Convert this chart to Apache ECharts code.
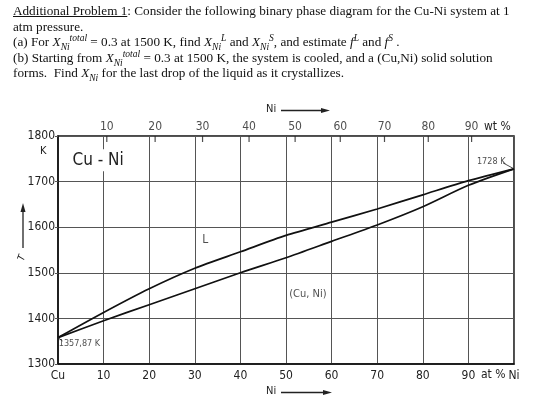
<!DOCTYPE html>
<html>
<head>
<meta charset="utf-8">
<script src="https://cdn.jsdelivr.net/npm/echarts@6/dist/echarts.min.js"></script>
<style>
  body { margin: 0; background: #fff; }
  #wrap { position: relative; width: 560px; height: 405px; }
  #chart { position: absolute; left: 0; top: 0; width: 560px; height: 405px; }
  #head {
    position: absolute; left: 13px; top: 3px; z-index: 2;
    font-family: "Liberation Serif", "DejaVu Serif", serif; font-size: 13.2px;
    line-height: 15.5px; color: #111; white-space: nowrap;
  }
  #head i { font-style: italic; }
  #head sub, #head sup { font-size: 9.5px; line-height: 0; font-style: italic; }
</style>
</head>
<body>
<div id="wrap">
  <div id="chart"></div>
  <div id="head">
    <u>Additional Problem 1</u>: Consider the following binary phase diagram for the Cu-Ni system at 1<br>
    atm pressure.<br>
    (a) For <i>X<sub>Ni</sub><sup>total</sup></i> = 0.3 at 1500 K, find <i>X<sub>Ni</sub><sup>L</sup></i> and <i>X<sub>Ni</sub><sup>S</sup></i>, and estimate <i>f<sup>L</sup></i> and <i>f<sup>S</sup></i> .<br>
    (b) Starting from <i>X<sub>Ni</sub><sup>total</sup></i> = 0.3 at 1500 K, the system is cooled, and a (Cu,Ni) solid solution<br>
    forms.&nbsp; Find <i>X<sub>Ni</sub></i> for the last drop of the liquid as it crystallizes.
  </div>
</div>
<script>
// at% Ni on the bottom axis, temperature in K
var atPct     = [0, 10, 20, 30, 40, 50, 60, 70, 80, 90, 100];
var liquidus  = [1357.87, 1413, 1465, 1510, 1546, 1582, 1611, 1640, 1671, 1702, 1728];
var solidus   = [1357.87, 1395, 1430, 1465, 1500, 1533, 1569, 1605, 1645, 1692, 1728];

// wt% labels on the top edge and where they sit on the at% scale
var wtLabels  = [10, 20, 30, 40, 50, 60, 70, 80, 90];
var wtAtPos   = [10.7, 21.3, 31.7, 41.9, 52.0, 61.9, 71.6, 81.2, 90.7];

// text inside the plot: [at%, K, text]
var notes = [
    [32.3, 1572, 'L'],
    [54.8, 1453, '(Cu, Ni)']
];
var systemNote = [8.8, 1747, 'Cu - Ni'];
var tmNotes = [
    [95.0, 1743.5, '1728 K'],
    [4.7, 1345.5, '1357,87 K']
];
var leaders = [
    [[100, 1728], [97.6, 1741]],
    [[0, 1357.87], [1.0, 1350.5]]
];

var narrow = "'DejaVu Sans Condensed', 'Liberation Sans Narrow', sans-serif";

function pairs(xs, ys) {
    return xs.map((x, i) => [x, ys[i]]);
}

var chart = echarts.init(document.getElementById('chart'));

var series = [
    { name: 'liquidus', type: 'line', data: pairs(atPct, liquidus), showSymbol: false, smooth: 0.25,
      lineStyle: { color: '#111', width: 1.7 }, z: 5, silent: true,
      // white box under "Cu - Ni" breaks the grid line like the print does
      markPoint: { silent: true, animation: false,
        data: [{ coord: [systemNote[0], systemNote[1]], name: systemNote[2],
                 symbol: 'rect', symbolSize: [48, 22], itemStyle: { color: '#fff' },
                 label: { show: true, position: 'inside', formatter: '{b}',
                          fontFamily: narrow, fontSize: 17, color: '#222' } }] } },
    { name: 'solidus', type: 'line', data: pairs(atPct, solidus), showSymbol: false, smooth: 0.25,
      lineStyle: { color: '#111', width: 1.7 }, z: 5, silent: true },
    // wt% scale on top
    { type: 'scatter', data: wtAtPos.map((x, i) => ({ value: [x, 1800], name: String(wtLabels[i]) })),
      symbol: 'rect', symbolSize: [1.2, 6], symbolOffset: [0, 3],
      itemStyle: { color: '#222' }, clip: false, silent: true,
      label: { show: true, position: 'top', distance: 3, formatter: '{b}',
               fontFamily: narrow, fontSize: 12, color: '#222' } },
    // region names
    { type: 'scatter', symbolSize: 0, silent: true, z: 6,
      data: notes.map((n) => ({ value: [n[0], n[1]], name: n[2] })),
      label: { show: true, position: 'inside', color: '#222',
               formatter: (p) => '{t' + p.dataIndex + '|' + p.name + '}',
               rich: {
                   t0: { fontFamily: narrow, fontSize: 12, color: '#222' },
                   t1: { fontFamily: narrow, fontSize: 11, color: '#222' }
               } } },
    // melting points
    { type: 'scatter', data: tmNotes.map((n) => ({ value: [n[0], n[1]], name: n[2] })),
      symbolSize: 0, silent: true, z: 6,
      label: { show: true, position: 'inside', color: '#222', formatter: '{b}',
               fontFamily: narrow, fontSize: 9 } }
];
leaders.forEach((seg) => {
    series.push({ type: 'line', data: seg, showSymbol: false, silent: true, z: 6,
                  lineStyle: { color: '#222', width: 0.8 } });
});

var option = {
    animation: false,
    backgroundColor: '#fff',
    grid: { left: 58, top: 136, width: 456, height: 228, show: true,
            borderColor: '#111', borderWidth: 1.5, backgroundColor: 'transparent' },
    xAxis: {
        type: 'value', min: 0, max: 100, interval: 10,
        axisLine: { show: true, lineStyle: { color: '#111', width: 1.5 } },
        axisTick: { show: false },
        splitLine: { show: true, lineStyle: { color: '#555', width: 1 } },
        axisLabel: { fontFamily: narrow, fontSize: 12, color: '#222', margin: 6,
                     formatter: (v) => v === 0 ? 'Cu' : (v === 100 ? 'Ni' : String(v)) }
    },
    yAxis: {
        type: 'value', min: 1300, max: 1800, interval: 100,
        axisLine: { show: true, lineStyle: { color: '#111', width: 1.5 } },
        axisTick: { show: true, length: 3, lineStyle: { color: '#555' } },
        splitLine: { show: true, lineStyle: { color: '#555', width: 1 } },
        axisLabel: { fontFamily: narrow, fontSize: 12, color: '#222', margin: 3,
                     formatter: (v) => String(v) }
    },
    series: series,
    graphic: [
        { type: 'text', left: 40, top: 146, style: { text: 'K', font: '11px ' + narrow, fill: '#222' } },
        { type: 'text', left: 484, top: 121, style: { text: 'wt %', font: '12px ' + narrow, fill: '#222' } },
        { type: 'text', left: 481, top: 369, style: { text: 'at %', font: '12px ' + narrow, fill: '#222' } },
        // Ni arrows, top and bottom
        { type: 'text', left: 266, top: 104, style: { text: 'Ni', font: '11px ' + narrow, fill: '#222' } },
        { type: 'line', shape: { x1: 281, y1: 110.5, x2: 325, y2: 110.5 }, style: { stroke: '#222', lineWidth: 1.3 } },
        { type: 'polygon', shape: { points: [[330, 110.5], [321, 108], [321, 113]] }, style: { fill: '#222' } },
        { type: 'text', left: 266, top: 386, style: { text: 'Ni', font: '11px ' + narrow, fill: '#222' } },
        { type: 'line', shape: { x1: 281, y1: 392.5, x2: 327, y2: 392.5 }, style: { stroke: '#222', lineWidth: 1.3 } },
        { type: 'polygon', shape: { points: [[332, 392.5], [323, 390], [323, 395]] }, style: { fill: '#222' } },
        // temperature arrow on the left
        { type: 'line', shape: { x1: 23, y1: 248, x2: 23, y2: 210 }, style: { stroke: '#222', lineWidth: 1.3 } },
        { type: 'polygon', shape: { points: [[23, 203], [20.5, 212], [25.5, 212]] }, style: { fill: '#222' } },
        { type: 'text', x: 22, y: 258, rotation: Math.PI / 2.6, style: { text: 'T', font: 'italic 10px ' + narrow,
          fill: '#222', align: 'center', verticalAlign: 'middle' } }
    ]
};

chart.setOption(option);
</script>
</body>
</html>
